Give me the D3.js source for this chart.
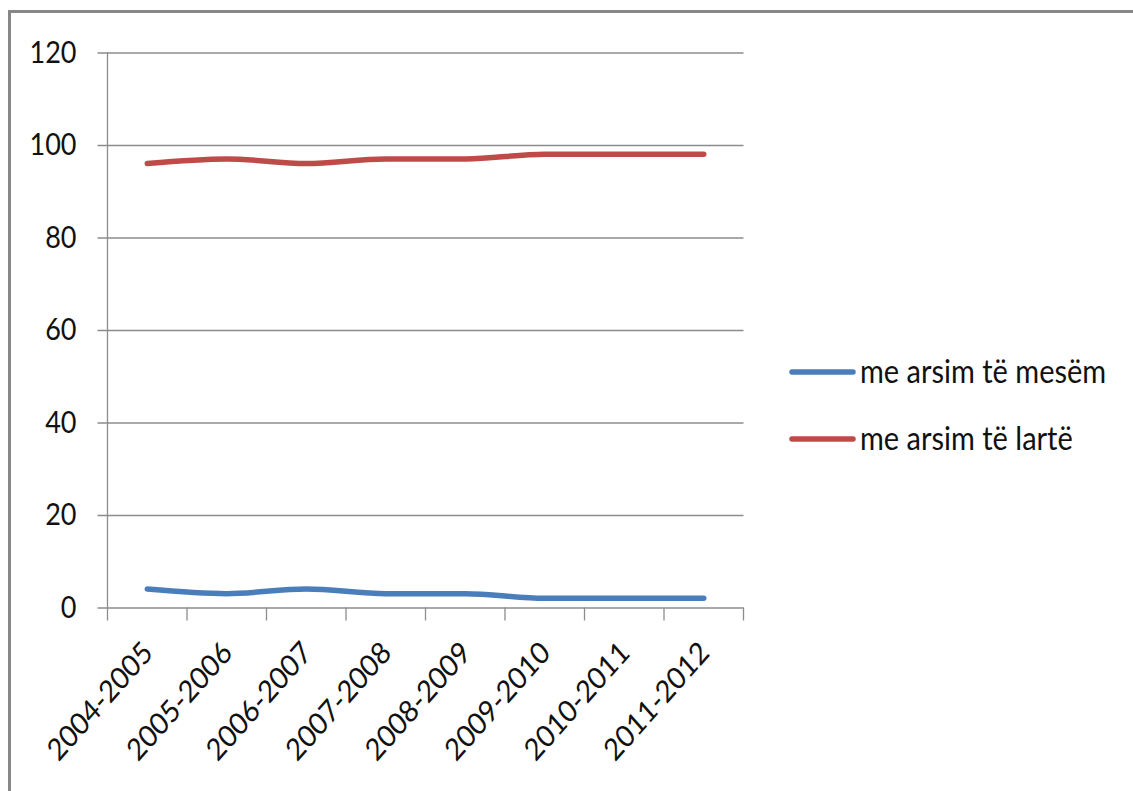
<!DOCTYPE html>
<html><head><meta charset="utf-8">
<script src="https://cdn.jsdelivr.net/npm/d3@7"></script>
<style>
html,body{margin:0;padding:0;background:#fff;}
svg{display:block;}
text{font-family:Lato,"Open Sans",sans-serif;fill:#111;}
</style></head>
<body><svg id="c" width="1133" height="791"></svg>
<script>
const categories = ["2004-2005","2005-2006","2006-2007","2007-2008","2008-2009","2009-2010","2010-2011","2011-2012"];
const seriesNames = ["me arsim të mesëm","me arsim të lartë"];
const mesem = [4, 3, 4, 3, 3, 2, 2, 2];
const larte = [96, 97, 96, 97, 97, 98, 98, 98];
const yTicks = [0, 20, 40, 60, 80, 100, 120];
const colors = ["#4a7ebb", "#be4b48"];
const SY = 1.13;

const svg = d3.select("#c");
svg.append("rect").attr("x",9.5).attr("y",11.5).attr("width",1140).attr("height",800)
  .attr("fill","none").attr("stroke","#878787").attr("stroke-width",3);

const L = 107.5, R = 743.5, T = 52.5, B = 607.5;
const x = d3.scaleBand().domain(categories).range([L, R]).padding(0);
const y = d3.scaleLinear().domain([0, 120]).range([B, T]);
const axisColor = "#8c8c8c";

// gridlines + y labels
const gy = svg.append("g").attr("transform", `translate(${L-10},0)`)
  .call(d3.axisLeft(y).tickValues(yTicks).tickSize(-(R - L + 10)).tickPadding(21).tickFormat(d3.format("d")));
gy.select(".domain").remove();
gy.selectAll(".tick line").attr("stroke", axisColor).attr("stroke-width", 1.3);
gy.selectAll(".tick text").style("font-size","27px").attr("font-family","Lato").attr("fill","#111")
  .attr("transform", `scale(1,${SY})`);

// y axis line
svg.append("line").attr("x1",L).attr("x2",L).attr("y1",y(120)).attr("y2",B)
  .attr("stroke",axisColor).attr("stroke-width",1.3);

// x tick marks at category boundaries
const bounds = categories.map(c => x(c)).concat([x(categories[categories.length-1]) + x.bandwidth()]);
svg.append("g").selectAll("line").data(bounds).join("line")
  .attr("x1",d=>d).attr("x2",d=>d).attr("y1",B).attr("y2",B+13)
  .attr("stroke",axisColor).attr("stroke-width",1.3);

// x labels
const gx = svg.append("g").attr("transform", `translate(0,${B})`)
  .call(d3.axisBottom(x).tickSize(0).tickPadding(0));
gx.select(".domain").remove();
gx.selectAll(".tick text")
  .style("font-size","27px").attr("font-family","Lato").attr("fill","#111")
  .attr("text-anchor","end").attr("dy",0).attr("y",0)
  .attr("transform",`translate(7,47) scale(1,${SY}) rotate(-45)`);

// lines
const line = d3.line().x((d,i)=>x(categories[i]) + x.bandwidth()/2).y(d=>y(d)).curve(d3.curveMonotoneX);
[mesem, larte].forEach((s, k) => {
  svg.append("path").attr("d", line(s)).attr("fill","none")
    .attr("stroke", colors[k]).attr("stroke-width", 5.5).attr("stroke-linecap","round").attr("stroke-linejoin","round");
});

// legend
const legY = [372, 439];
seriesNames.forEach((n, k) => {
  svg.append("line").attr("x1",792).attr("x2",853).attr("y1",legY[k]).attr("y2",legY[k])
    .attr("stroke",colors[k]).attr("stroke-width",5.5).attr("stroke-linecap","round");
  svg.append("text").attr("transform",`translate(860,${legY[k]+11}) scale(1,${SY})`).text(n)
    .style("font-size","29px");
});
</script></body></html>
